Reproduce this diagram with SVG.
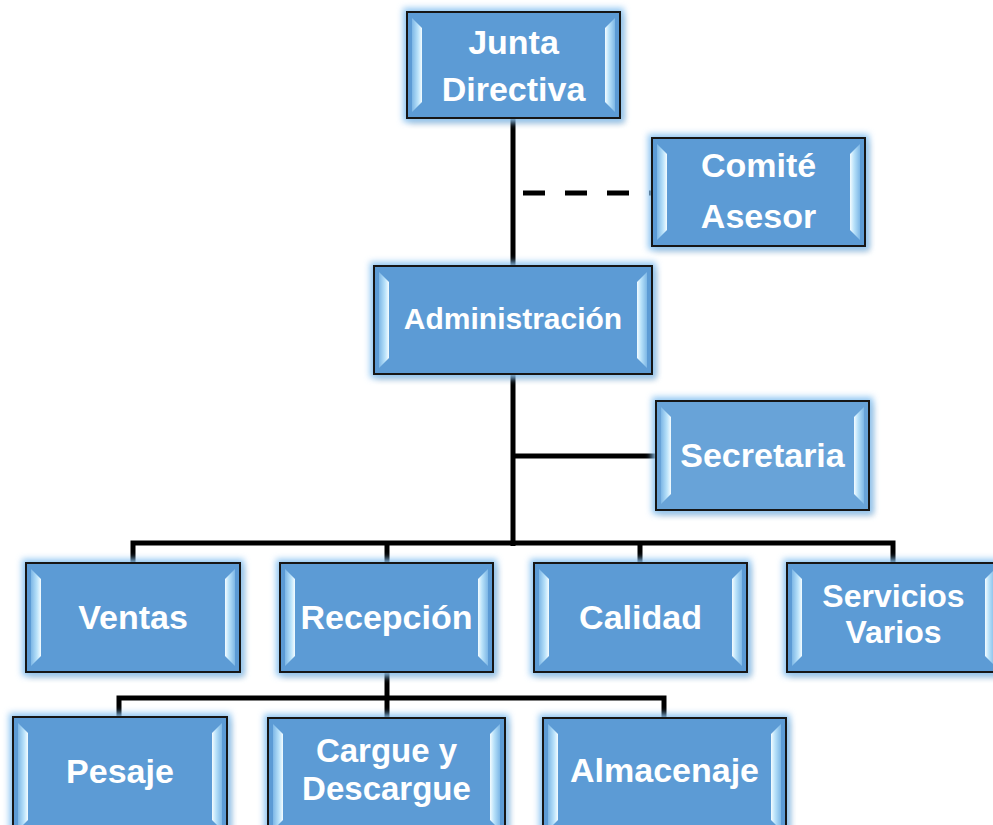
<svg xmlns="http://www.w3.org/2000/svg" width="993" height="825" viewBox="0 0 993 825">
<defs>
<style>
.box{fill:#5b9bd5;stroke:#141414;stroke-width:2;filter:url(#glow)}
.box.lt{fill:#68a3d8}
.bev{fill:url(#bevL)}
.bevr{fill:url(#bevR)}
.t{fill:#fff;font-family:"Liberation Sans",Arial,sans-serif;font-weight:bold;font-size:34px;text-anchor:middle}
.c{fill:none;stroke:#000;stroke-width:5}
</style>
<linearGradient id="bevL" x1="0" y1="0" x2="1" y2="0">
<stop offset="0" stop-color="#7db7e6"/>
<stop offset="0.6" stop-color="#b9e2fa"/>
<stop offset="1" stop-color="#f4fcff"/>
</linearGradient>
<linearGradient id="bevR" x1="1" y1="0" x2="0" y2="0">
<stop offset="0" stop-color="#7db7e6"/>
<stop offset="0.6" stop-color="#b9e2fa"/>
<stop offset="1" stop-color="#f4fcff"/>
</linearGradient>
<filter id="glow" x="-15%" y="-20%" width="130%" height="145%">
<feGaussianBlur in="SourceAlpha" stdDeviation="3" result="b"/>
<feOffset in="b" dx="3" dy="4" result="o"/>
<feFlood flood-color="#000" flood-opacity="0.35"/>
<feComposite in2="o" operator="in" result="shadow"/>
<feMorphology in="SourceAlpha" operator="dilate" radius="3" result="d"/>
<feGaussianBlur in="d" stdDeviation="3" result="db"/>
<feFlood flood-color="#8cc4f2" flood-opacity="0.95"/>
<feComposite in2="db" operator="in" result="gl"/>
<feMerge><feMergeNode in="shadow"/><feMergeNode in="gl"/><feMergeNode in="SourceGraphic"/></feMerge>
</filter>
</defs>
<rect width="993" height="825" fill="#fff"/>

<g id="connectors">
<path class="c" d="M513 118 V266" stroke-width="6"/>
<path class="c" d="M523 193 H652" stroke-dasharray="22 20"/>
<path class="c" d="M513 374 V546" stroke-width="6"/>
<path class="c" d="M513 456 H656"/>
<path class="c" d="M133 563 V543 H893 V563"/>
<path class="c" d="M387 543 V563"/>
<path class="c" d="M640 543 V563"/>
<path class="c" d="M387 672 V718"/>
<path class="c" d="M119 717 V698 H664 V718"/>
</g>

<g id="junta">
<rect class="box" x="407" y="12" width="213" height="106"/>
<polygon class="bev" points="412,18 422,28 422,102 412,112"/>
<polygon class="bevr" points="615,18 605,28 605,102 615,112"/>
<text class="t" x="513.5" y="54">Junta</text>
<text class="t" x="513.5" y="101">Directiva</text>
</g>

<g id="comite">
<rect class="box" x="652" y="138" width="213" height="108"/>
<polygon class="bev" points="657,144 667,154 667,230 657,240"/>
<polygon class="bevr" points="860,144 850,154 850,230 860,240"/>
<text class="t" x="758.5" y="177">Comité</text>
<text class="t" x="758.5" y="228">Asesor</text>
</g>

<g id="administracion">
<rect class="box" x="374" y="266" width="278" height="108"/>
<polygon class="bev" points="379,272 389,282 389,358 379,368"/>
<polygon class="bevr" points="647,272 637,282 637,358 647,368"/>
<text class="t" x="513" y="329" style="font-size:30px">Administración</text>
</g>

<g id="secretaria">
<rect class="box lt" x="656" y="401" width="213" height="109"/>
<polygon class="bev" points="661,407 671,417 671,494 661,504"/>
<polygon class="bevr" points="864,407 854,417 854,494 864,504"/>
<text class="t" x="762.5" y="467">Secretaria</text>
</g>

<g id="ventas">
<rect class="box" x="26" y="563" width="214" height="109"/>
<polygon class="bev" points="31,569 41,579 41,656 31,666"/>
<polygon class="bevr" points="235,569 225,579 225,656 235,666"/>
<text class="t" x="133" y="629">Ventas</text>
</g>

<g id="recepcion">
<rect class="box" x="280" y="563" width="213" height="109"/>
<polygon class="bev" points="285,569 295,579 295,656 285,666"/>
<polygon class="bevr" points="488,569 478,579 478,656 488,666"/>
<text class="t" x="386.5" y="629">Recepción</text>
</g>

<g id="calidad">
<rect class="box" x="534" y="563" width="213" height="109"/>
<polygon class="bev" points="539,569 549,579 549,656 539,666"/>
<polygon class="bevr" points="742,569 732,579 732,656 742,666"/>
<text class="t" x="640.5" y="629">Calidad</text>
</g>

<g id="servicios">
<rect class="box" x="787" y="563" width="213" height="109"/>
<polygon class="bev" points="792,569 802,579 802,656 792,666"/>
<polygon class="bevr" points="995,569 985,579 985,656 995,666"/>
<text class="t" x="893.5" y="607" style="font-size:32px">Servicios</text>
<text class="t" x="893.5" y="643" style="font-size:32px">Varios</text>
</g>

<g id="pesaje">
<rect class="box" x="13" y="717" width="214" height="120"/>
<polygon class="bev" points="18,723 28,733 28,820 18,830"/>
<polygon class="bevr" points="222,723 212,733 212,820 222,830"/>
<text class="t" x="120" y="783">Pesaje</text>
</g>

<g id="cargue">
<rect class="box" x="268" y="718" width="237" height="120"/>
<polygon class="bev" points="273,724 283,734 283,820 273,830"/>
<polygon class="bevr" points="500,724 490,734 490,820 500,830"/>
<text class="t" x="386.5" y="762" style="font-size:33px">Cargue y</text>
<text class="t" x="386.5" y="800" style="font-size:33px">Descargue</text>
</g>

<g id="almacenaje">
<rect class="box" x="543" y="718" width="243" height="120"/>
<polygon class="bev" points="548,724 558,734 558,820 548,830"/>
<polygon class="bevr" points="781,724 771,734 771,820 781,830"/>
<text class="t" x="664.5" y="782">Almacenaje</text>
</g>
</svg>
